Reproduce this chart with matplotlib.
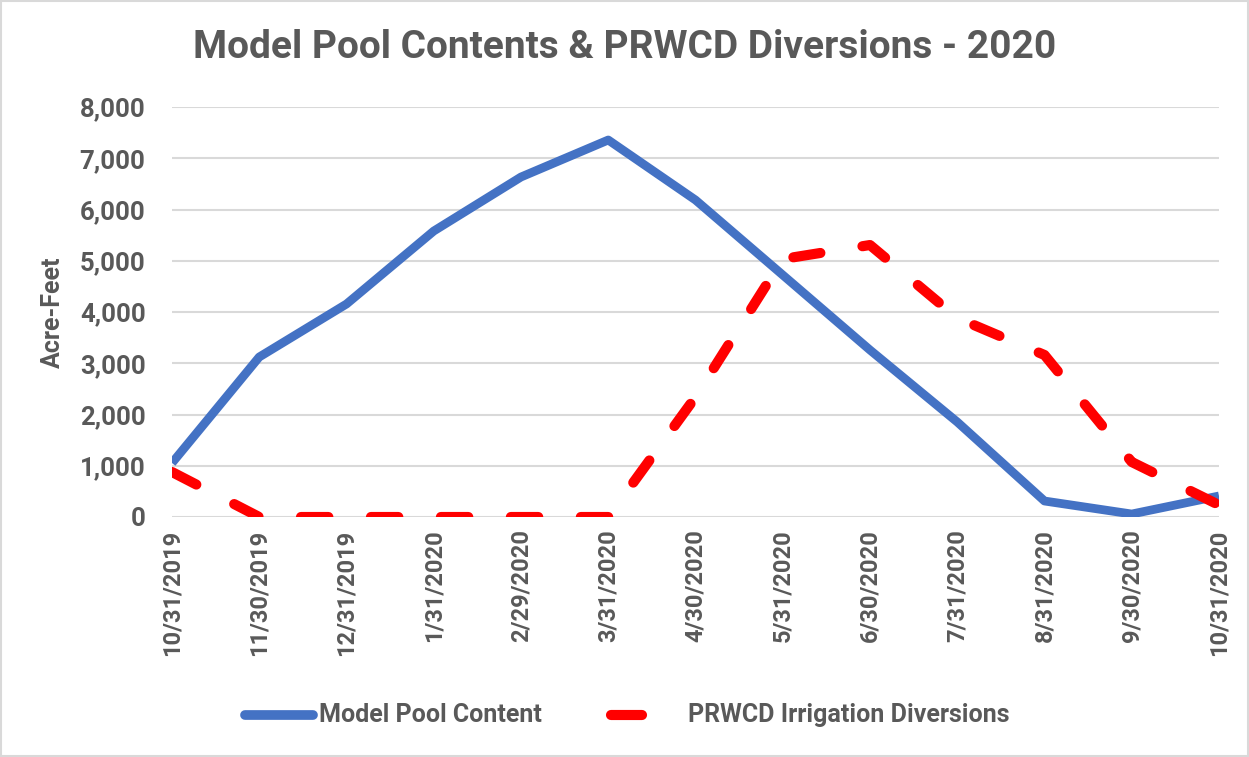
import matplotlib
matplotlib.use("Agg")
import matplotlib.pyplot as plt
from matplotlib.lines import Line2D
from matplotlib.patches import Rectangle

dates = ["10/31/2019", "11/30/2019", "12/31/2019", "1/31/2020", "2/29/2020", "3/31/2020",
         "4/30/2020", "5/31/2020", "6/30/2020", "7/31/2020", "8/31/2020", "9/30/2020", "10/31/2020"]
pool = [1054, 3122, 4156, 5580, 6634, 7356, 6185, 4722, 3258, 1854, 312, 58, 410]
diversions = [878, 0, 0, 0, 0, 0, 2341, 5034, 5307, 3883, 3161, 1073, 234]
yticks = [0, 1000, 2000, 3000, 4000, 5000, 6000, 7000, 8000]
series_names = ['Model Pool Content', 'PRWCD Irrigation Diversions']

plt.rcParams['font.family'] = ['Roboto', 'DejaVu Sans']
gray = '#595959'
blue = '#4472C4'
red = '#FF0000'

fig = plt.figure(figsize=(12.49, 7.57), dpi=100)
W, H = 1249, 757
ax = fig.add_axes([172 / W, 1 - 517 / H, (1219 - 172) / W, (517 - 107) / H])

x = list(range(len(dates)))
ax.plot(x, pool, color=blue, lw=6.3, solid_joinstyle='round', solid_capstyle='butt', zorder=3)
ax.plot(x, diversions, color=red, lw=7.3, dash_capstyle='round', dash_joinstyle='round',
        linestyle=(0, (2.7, 4.2)), zorder=4)

ax.set_xlim(0, len(dates) - 1)
ax.set_ylim(0, 8000)
ax.set_yticks(yticks)
ax.set_yticklabels([f"{v:,}" for v in yticks])
ax.set_xticks(x)
ax.set_xticklabels(dates, rotation=90)
ax.grid(axis='y', color='#D9D9D9', lw=1.5)
ax.set_axisbelow(True)
for s in ax.spines.values():
    s.set_visible(False)
ax.tick_params(axis='y', length=0, pad=19, labelsize=18.5, labelcolor=gray)
ax.tick_params(axis='x', length=0, pad=9, labelsize=17, labelcolor=gray)
for lab in ax.get_xticklabels() + ax.get_yticklabels():
    lab.set_fontweight('bold')

fig.text(53 / W, 1 - 312 / H, 'Acre-Feet', rotation=90, ha='center', va='center',
         fontsize=18, fontweight='bold', color=gray)

fig.text(625 / W, 1 - 47 / H, 'Model Pool Contents & PRWCD Diversions - 2020', ha='center', va='center',
         fontsize=28, fontweight='bold', color=gray)

# manual legend
ly = 1 - 715 / H
fig.add_artist(Line2D([245 / W, 313 / W], [ly, ly], color=blue, lw=7, solid_capstyle='round'))
fig.text(319 / W, ly, series_names[0], ha='left', va='center', fontsize=18, fontweight='bold', color=gray)
fig.add_artist(Line2D([611 / W, 642 / W], [ly, ly], color=red, lw=7.3, solid_capstyle='round'))
fig.text(688 / W, ly, series_names[1], ha='left', va='center', fontsize=18, fontweight='bold', color=gray)

fig.patches.append(Rectangle((0.001, 0.001), 0.998, 0.998, transform=fig.transFigure,
                             fill=False, edgecolor='#D9D9D9', lw=1.5))

fig.savefig('out.png', dpi=100, facecolor='white')
